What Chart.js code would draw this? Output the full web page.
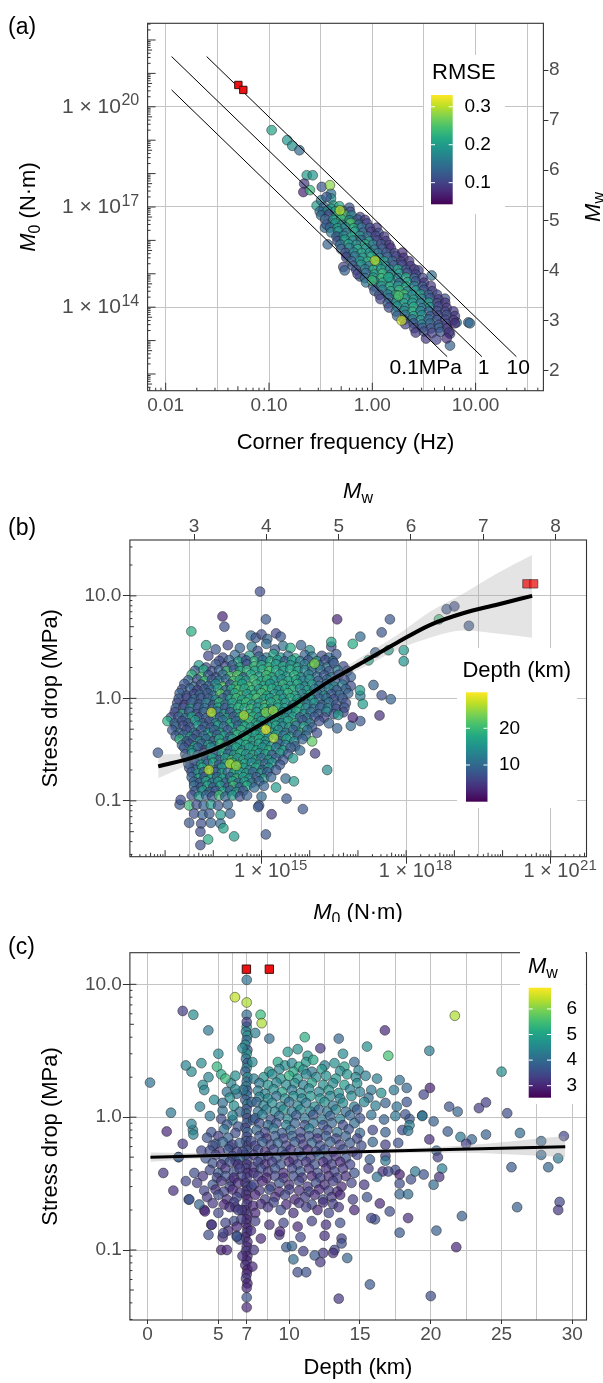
<!DOCTYPE html>
<html>
<head>
<meta charset="utf-8">
<script src="https://cdn.jsdelivr.net/npm/chart.js@4.4.1/dist/chart.umd.min.js"></script>
<style>
  html, body { margin: 0; padding: 0; background: #fff; }
  #fig { position: relative; width: 603px; height: 1383px; overflow: hidden; background: #fff; }
  #fig canvas { position: absolute; left: 0; }
</style>
</head>
<body>
<div id="fig">
  <canvas id="panelA" width="603" height="462" style="top:0px"></canvas>
  <canvas id="panelB" width="603" height="460" style="top:462px"></canvas>
  <canvas id="panelC" width="603" height="461" style="top:922px"></canvas>
</div>
<script>
// ---------------- panel (a): corner frequency vs seismic moment, colour = RMSE
// [corner frequency (Hz), M0 (N·m), RMSE]
const aEvents = [
  [0.106, 2.0e19, 0.21], [0.150, 1.0e19, 0.19], [0.168, 6.8e18, 0.18], [0.197, 5.0e18, 0.14],
  [0.232, 8.9e17, 0.20], [0.265, 8.9e17, 0.19], [0.219, 5.0e17, 0.09], [0.215, 2.8e17, 0.07],
  [0.249, 3.2e17, 0.23], [0.324, 4.0e17, 0.12], [0.398, 2.5e17, 0.15], [0.398, 1.8e17, 0.18],
  [0.289, 1.1e17, 0.20], [0.331, 7.6e16, 0.11], [0.42, 1.1e17, 0.19], [0.565, 4.0e16, 0.26],
  [0.665, 3.7e16, 0.25], [0.404, 3.3e16, 0.09], [0.348, 2.4e16, 0.14], [0.37, 7.6e15, 0.13],
  [0.469, 1.35e16, 0.22], [0.577, 3.5e15, 0.20], [0.524, 1.6e15, 0.10], [0.76, 8.3e14, 0.12],
  [3.75, 8.9e14, 0.15], [5.05, 1.8e14, 0.11], [8.5, 3.5e13, 0.13], [8.8, 3.3e13, 0.14],
  [6.55, 3.5e13, 0.15], [5.65, 7.1e12, 0.13], [5.65, 1.6e13, 0.10], [2.79, 1.26e15, 0.10],
  [0.54, 1.26e15, 0.13],
  [0.32, 1.6e17, 0.16], [0.36, 2.0e17, 0.12],
  [0.34, 1.0e17, 0.13], [0.40, 8.9e16, 0.20], [0.48, 1.05e17, 0.22], [0.60, 9.5e16, 0.12],
  [0.31, 7.3e16, 0.15], [0.37, 7.7e16, 0.18], [0.44, 7.4e16, 0.21], [0.52, 7.6e16, 0.14], [0.61, 7.2e16, 0.11],
  [0.32, 5.6e16, 0.14], [0.38, 6.0e16, 0.10], [0.45, 5.2e16, 0.22], [0.54, 5.8e16, 0.25], [0.63, 5.5e16, 0.17], [0.76, 5.0e16, 0.10],
  [0.35, 4.3e16, 0.13], [0.42, 4.1e16, 0.19], [0.50, 4.3e16, 0.23], [0.60, 4.0e16, 0.17], [0.72, 4.2e16, 0.12], [0.85, 4.1e16, 0.09],
  [0.36, 3.0e16, 0.12], [0.44, 3.2e16, 0.20], [0.51, 2.9e16, 0.16], [0.62, 3.3e16, 0.25], [0.74, 2.95e16, 0.14], [0.89, 3.2e16, 0.10],
  [0.39, 2.4e16, 0.14], [0.46, 2.3e16, 0.20], [0.55, 2.45e16, 0.17], [0.66, 2.3e16, 0.22], [0.79, 2.4e16, 0.15], [0.95, 2.35e16, 0.11], [1.10, 2.4e16, 0.09],
  [0.40, 1.74e16, 0.16], [0.47, 1.86e16, 0.18], [0.56, 1.66e16, 0.15], [0.68, 1.82e16, 0.20], [0.81, 1.7e16, 0.13], [0.98, 1.78e16, 0.09], [1.15, 1.66e16, 0.11],
  [0.45, 1.3e16, 0.12], [0.53, 1.36e16, 0.17], [0.63, 1.3e16, 0.21], [0.76, 1.35e16, 0.19], [0.90, 1.31e16, 0.14], [1.08, 1.36e16, 0.10], [1.30, 1.3e16, 0.09],
  [0.46, 9.5e15, 0.11], [0.54, 1.05e16, 0.20], [0.65, 9.8e15, 0.17], [0.78, 1.02e16, 0.14], [0.93, 9.3e15, 0.19], [1.12, 1.0e16, 0.10], [1.35, 9.5e15, 0.09],
  [0.49, 7.4e15, 0.14], [0.59, 7.7e15, 0.20], [0.70, 7.3e15, 0.18], [0.85, 7.6e15, 0.22], [1.02, 7.4e15, 0.16], [1.22, 7.7e15, 0.11], [1.46, 7.3e15, 0.09],
  [0.50, 5.5e15, 0.13], [0.60, 5.9e15, 0.16], [0.72, 5.4e15, 0.21], [0.87, 5.75e15, 0.18], [1.05, 5.25e15, 0.15], [1.26, 5.6e15, 0.12], [1.51, 5.9e15, 0.08],
  [0.55, 4.2e15, 0.11], [0.66, 4.3e15, 0.17], [0.79, 4.1e15, 0.21], [0.95, 4.3e15, 0.19], [1.14, 4.1e15, 0.15], [1.37, 4.25e15, 0.12], [1.64, 4.1e15, 0.10], [1.95, 4.3e15, 0.08],
  [0.56, 3.1e15, 0.10], [0.68, 3.3e15, 0.15], [0.81, 3.0e15, 0.19], [0.98, 3.24e15, 0.22], [1.17, 2.95e15, 0.16], [1.41, 3.16e15, 0.13], [1.70, 3.3e15, 0.10], [2.0, 3.0e15, 0.08],
  [0.63, 2.35e15, 0.13], [0.76, 2.4e15, 0.19], [0.90, 2.3e15, 0.22], [1.09, 2.4e15, 0.18], [1.31, 2.33e15, 0.20], [1.57, 2.4e15, 0.13], [1.90, 2.3e15, 0.10], [2.27, 2.38e15, 0.09],
  [0.65, 1.74e15, 0.12], [0.78, 1.86e15, 0.18], [0.93, 1.7e15, 0.15], [1.12, 1.82e15, 0.20], [1.35, 1.66e15, 0.17], [1.62, 1.78e15, 0.12], [1.95, 1.86e15, 0.10], [2.34, 1.7e15, 0.09],
  [0.70, 1.3e15, 0.11], [0.85, 1.36e15, 0.16], [1.02, 1.3e15, 0.22], [1.22, 1.35e15, 0.20], [1.47, 1.31e15, 0.17], [1.77, 1.36e15, 0.21], [2.12, 1.3e15, 0.12], [2.55, 1.35e15, 0.09],
  [0.72, 9.8e14, 0.10], [0.87, 1.05e15, 0.14], [1.05, 9.5e14, 0.20], [1.26, 1.02e15, 0.23], [1.51, 9.3e14, 0.16], [1.82, 1.0e15, 0.19], [2.19, 1.05e15, 0.11], [2.63, 9.5e14, 0.10],
  [0.85, 7.4e14, 0.14], [1.02, 7.7e14, 0.19], [1.22, 7.3e14, 0.23], [1.47, 7.6e14, 0.20], [1.77, 7.4e14, 0.16], [2.12, 7.7e14, 0.22], [2.55, 7.3e14, 0.13], [3.06, 7.5e14, 0.10],
  [0.87, 5.5e14, 0.15], [1.05, 5.9e14, 0.17], [1.26, 5.4e14, 0.21], [1.51, 5.75e14, 0.18], [1.82, 5.25e14, 0.14], [2.19, 5.6e14, 0.20], [2.63, 5.9e14, 0.12], [3.16, 5.4e14, 0.09],
  [1.02, 4.2e14, 0.13], [1.22, 4.3e14, 0.18], [1.47, 4.1e14, 0.22], [1.77, 4.3e14, 0.19], [2.12, 4.1e14, 0.21], [2.55, 4.25e14, 0.16], [3.06, 4.1e14, 0.12], [3.68, 4.3e14, 0.09],
  [1.05, 3.1e14, 0.12], [1.26, 3.3e14, 0.16], [1.51, 3.0e14, 0.20], [1.82, 3.24e14, 0.23], [2.19, 2.95e14, 0.17], [2.63, 3.16e14, 0.19], [3.16, 3.3e14, 0.11], [3.8, 3.0e14, 0.10],
  [1.17, 2.35e14, 0.11], [1.41, 2.4e14, 0.16], [1.69, 2.3e14, 0.20], [2.03, 2.4e14, 0.24], [2.44, 2.33e14, 0.18], [2.93, 2.4e14, 0.20], [3.52, 2.3e14, 0.13], [4.23, 2.38e14, 0.10],
  [1.2, 1.74e14, 0.10], [1.45, 1.86e14, 0.14], [1.74, 1.7e14, 0.21], [2.09, 1.82e14, 0.18], [2.51, 1.66e14, 0.20], [3.02, 1.78e14, 0.16], [3.63, 1.86e14, 0.12], [4.37, 1.7e14, 0.09],
  [1.41, 1.3e14, 0.12], [1.69, 1.36e14, 0.17], [2.03, 1.3e14, 0.21], [2.44, 1.35e14, 0.19], [2.93, 1.31e14, 0.16], [3.52, 1.36e14, 0.20], [4.23, 1.3e14, 0.11], [5.08, 1.35e14, 0.09],
  [1.45, 9.8e13, 0.11], [1.74, 1.05e14, 0.19], [2.09, 9.5e13, 0.17], [2.51, 1.02e14, 0.22], [3.02, 9.3e13, 0.15], [3.63, 1.0e14, 0.18], [4.37, 1.05e14, 0.10], [5.25, 9.5e13, 0.09],
  [1.69, 7.4e13, 0.14], [2.03, 7.7e13, 0.18], [2.44, 7.3e13, 0.22], [2.93, 7.6e13, 0.17], [3.52, 7.4e13, 0.13], [4.23, 7.7e13, 0.11], [5.08, 7.3e13, 0.10], [6.1, 7.5e13, 0.09],
  [1.74, 5.5e13, 0.13], [2.09, 5.9e13, 0.15], [2.51, 5.4e13, 0.20], [3.02, 5.75e13, 0.18], [3.63, 5.25e13, 0.12], [4.37, 5.6e13, 0.10], [5.25, 5.9e13, 0.11], [6.3, 5.4e13, 0.09],
  [2.03, 4.2e13, 0.11], [2.44, 4.3e13, 0.15], [2.93, 4.1e13, 0.18], [3.52, 4.3e13, 0.14], [4.23, 4.1e13, 0.12], [5.08, 4.25e13, 0.10], [6.1, 4.1e13, 0.09],
  [2.09, 3.1e13, 0.10], [2.51, 3.3e13, 0.12], [3.02, 3.0e13, 0.16], [3.63, 3.24e13, 0.14], [4.37, 2.95e13, 0.11], [5.25, 3.16e13, 0.10], [6.3, 3.3e13, 0.08],
  [2.55, 2.35e13, 0.10], [3.06, 2.4e13, 0.12], [3.68, 2.3e13, 0.11], [4.42, 2.4e13, 0.13], [5.3, 2.33e13, 0.09],
  [2.63, 1.74e13, 0.09], [3.16, 1.86e13, 0.11], [3.8, 1.7e13, 0.10], [4.57, 1.82e13, 0.12], [5.5, 1.74e13, 0.09],
  [3.31, 1.15e13, 0.09], [4.17, 1.07e13, 0.10], [5.25, 1.17e13, 0.08],
  [0.389, 4.5e17, 0.28], [0.486, 7.9e16, 0.30], [1.79, 2.2e14, 0.25], [1.43, 7.9e14, 0.21],
  [0.996, 6.3e14, 0.24], [1.06, 2.5e15, 0.30], [1.92, 4.0e13, 0.31]
];
const aLargeFc = [0.0505, 0.0564];
const aLargeM0 = [4.5e20, 3.2e20];
// constant stress-drop lines: 0.1, 1 and 10 MPa
const aLine01 = [[0.0114, 3.2e20], [5.3, 3.3e12]];
const aLine1 = [[0.0114, 3.2e21], [11.5, 3.3e12]];
const aLine10 = [[0.0249, 3.2e21], [24.8, 3.3e12]];
const aLineNames = ['0.1MPa', '1', '10'];
const aFreqGrid = [0.01, 0.0316, 0.1, 0.316, 1, 3.16, 10, 31.6];
const aFreqTicks = [0.01, 0.1, 1, 10];
const aFreqLabels = ['0.01', '0.10', '1.00', '10.00'];
const aMomentTicks = [1e14, 1e17, 1e20];
const aMwTicks = [2, 3, 4, 5, 6, 7, 8];
const rmseTicks = [0.1, 0.2, 0.3];
const rmseRange = [0.043, 0.331];

// ---------------- panel (b): stress drop vs M0, colour = depth
// [M0 (N·m), stress drop (MPa), depth (km)]
const bEvents = [
  [6.0e14,4.1,10],[7.6e14,3.9,8],[1.0e15,4.2,7],[1.32e15,3.8,9],[2.0e15,4.3,6],[2.5e15,4.0,8],
  [1.12e14,3.0,8],[2.0e14,3.3,6],[3.55e14,3.1,9],[6.3e14,3.2,12],[8.3e14,2.9,7],[1.26e15,3.4,10],[1.9e15,3.0,8],[2.8e15,3.25,11],[4.0e15,3.1,18],[6.6e15,3.3,9],[1.0e16,2.95,14],[2.8e16,3.2,7],
  [7.9e13,2.6,6],[1.58e14,2.5,7],[2.8e14,2.65,10],[4.0e14,2.45,8],[5.6e14,2.6,16],[8.9e14,2.55,9],[1.26e15,2.5,12],[1.78e15,2.7,17],[2.5e15,2.5,15],[3.55e15,2.6,10],[5.0e15,2.45,18],[7.9e15,2.65,9],[1.12e16,2.55,12],[1.78e16,2.6,7],[2.5e16,2.5,10],[3.55e16,2.7,8],
  [1.32e14,2.32,7],[2.14e14,2.36,9],[3.31e14,2.29,17],[4.79e14,2.34,8],[7.08e14,2.3,19],[1.05e15,2.35,10],[1.51e15,2.3,18],[2.14e15,2.36,16],[3.02e15,2.29,9],[4.27e15,2.34,17],[6.31e15,2.3,12],[9.33e15,2.35,8],[1.41e16,2.3,15],[2.09e16,2.36,7],[3.02e16,2.3,10],
  [5.0e13,2.1,16],[7.1e13,2.0,7],[1.12e14,2.15,8],[1.78e14,2.05,6],[2.5e14,2.1,9],[3.55e14,2.0,18],[5.0e14,2.15,8],[7.1e14,2.05,20],[1.0e15,2.1,17],[1.41e15,2.0,19],[2.0e15,2.15,16],[2.8e15,2.05,18],[4.0e15,2.1,14],[5.6e15,2.0,17],[7.9e15,2.15,12],[1.12e16,2.05,20],[1.58e16,2.1,9],[2.24e16,2.0,11],[3.16e16,2.2,8],[5.0e16,2.05,7],
  [4.17e13,1.86,8],[6.31e13,1.9,18],[9.33e13,1.84,7],[1.32e14,1.88,9],[1.91e14,1.85,20],[2.69e14,1.9,8],[3.63e14,1.84,17],[5.01e14,1.88,19],[7.24e14,1.85,16],[1.05e15,1.9,18],[1.45e15,1.84,21],[2.0e15,1.88,17],[2.82e15,1.85,15],[3.98e15,1.9,18],[5.62e15,1.84,16],[7.94e15,1.88,13],[1.12e16,1.85,9],[1.66e16,1.9,11],[2.51e16,1.84,8],[3.8e16,1.88,12],[6.03e16,1.85,6],
  [3.55e13,1.7,19],[5.6e13,1.62,21],[7.9e13,1.68,8],[1.12e14,1.6,7],[1.58e14,1.7,10],[2.24e14,1.64,21],[3.16e14,1.68,22],[4.2e14,1.6,9],[6.0e14,1.7,18],[8.9e14,1.63,16],[1.26e15,1.68,20],[1.66e15,1.6,18],[2.4e15,1.7,17],[3.3e15,1.63,16],[4.8e15,1.68,19],[6.6e15,1.6,15],[9.5e15,1.7,13],[1.41e16,1.63,10],[2.0e16,1.68,8],[2.8e16,1.6,12],[4.0e16,1.7,7],[7.1e16,1.62,9],
  [3.02e13,1.5,9],[4.68e13,1.53,7],[6.61e13,1.48,20],[9.33e13,1.52,8],[1.32e14,1.49,12],[1.86e14,1.53,9],[2.63e14,1.48,21],[3.55e14,1.51,18],[4.79e14,1.49,16],[6.92e14,1.53,20],[1.0e15,1.48,17],[1.32e15,1.52,19],[1.86e15,1.49,16],[2.63e15,1.53,14],[3.63e15,1.48,18],[5.25e15,1.51,17],[7.24e15,1.49,12],[1.0e16,1.53,15],[1.51e16,1.48,9],[2.29e16,1.52,10],[3.31e16,1.49,8],[5.25e16,1.51,7],
  [2.5e13,1.38,8],[4.0e13,1.3,10],[5.6e13,1.36,7],[7.9e13,1.32,9],[1.12e14,1.38,14],[1.58e14,1.3,22],[2.24e14,1.36,8],[3.0e14,1.32,20],[4.0e14,1.38,17],[5.6e14,1.3,21],[7.9e14,1.36,19],[1.12e15,1.32,18],[1.51e15,1.38,15],[2.1e15,1.3,17],[2.8e15,1.36,19],[4.0e15,1.32,16],[5.6e15,1.38,18],[7.9e15,1.3,14],[1.12e16,1.36,16],[1.58e16,1.32,11],[2.24e16,1.38,9],[3.16e16,1.3,14],[4.8e16,1.36,12],[7.1e16,1.32,7],
  [2.24e13,1.22,7],[3.31e13,1.24,9],[4.68e13,1.2,6],[6.61e13,1.23,8],[8.91e13,1.21,10],[1.26e14,1.24,16],[1.78e14,1.2,9],[2.4e14,1.23,18],[3.31e14,1.21,21],[4.47e14,1.24,17],[6.31e14,1.2,19],[8.91e14,1.23,16],[1.2e15,1.21,20],[1.66e15,1.24,18],[2.29e15,1.2,15],[3.16e15,1.23,17],[4.47e15,1.21,19],[6.31e15,1.24,14],[8.91e15,1.2,16],[1.26e16,1.23,12],[1.78e16,1.21,10],[2.51e16,1.24,13],[3.63e16,1.2,8],[5.62e16,1.23,9],
  [2.0e13,1.12,9],[2.8e13,1.06,8],[4.0e13,1.1,6],[5.25e13,1.08,10],[7.6e13,1.12,8],[1.0e14,1.06,11],[1.41e14,1.1,22],[2.0e14,1.08,9],[2.8e14,1.12,17],[3.8e14,1.06,21],[5.0e14,1.1,16],[7.1e14,1.08,18],[1.0e15,1.12,20],[1.32e15,1.06,17],[1.86e15,1.1,16],[2.5e15,1.08,15],[3.55e15,1.12,19],[5.0e15,1.06,17],[7.1e15,1.1,13],[1.0e16,1.08,18],[1.41e16,1.12,10],[2.0e16,1.06,14],[2.8e16,1.1,8],[4.2e16,1.08,10],[6.3e16,1.12,9],[1.12e17,1.06,12],
  [1.91e13,0.99,8],[2.82e13,1.0,6],[3.98e13,0.98,10],[5.62e13,1.0,7],[7.94e13,0.99,9],[1.12e14,0.97,13],[1.58e14,1.0,8],[2.24e14,0.98,17],[3.02e14,1.0,20],[3.98e14,0.97,16],[5.62e14,0.99,18],[7.94e14,1.0,21],[1.12e15,0.98,17],[1.51e15,1.0,16],[2.09e15,0.97,19],[2.88e15,0.99,15],[3.98e15,1.0,18],[5.62e15,0.98,16],[7.94e15,1.0,12],[1.12e16,0.97,14],[1.58e16,0.99,9],[2.24e16,1.0,10],[3.16e16,0.98,7],[4.79e16,1.0,8],
  [1.78e13,0.9,7],[2.5e13,0.86,5],[3.55e13,0.91,9],[5.0e13,0.87,8],[7.1e13,0.9,12],[1.0e14,0.86,7],[1.32e14,0.91,19],[1.78e14,0.87,10],[2.5e14,0.9,16],[3.55e14,0.86,18],[4.8e14,0.91,20],[6.3e14,0.87,16],[8.9e14,0.9,15],[1.2e15,0.86,22],[1.58e15,0.91,17],[2.24e15,0.87,18],[3.16e15,0.9,16],[4.5e15,0.86,14],[6.3e15,0.91,17],[8.9e15,0.87,12],[1.26e16,0.9,15],[1.78e16,0.86,9],[2.5e16,0.91,11],[3.55e16,0.87,8],[5.6e16,0.9,7],[1.26e17,0.88,16],
  [1.66e13,0.8,9],[2.4e13,0.81,7],[3.31e13,0.79,16],[4.79e13,0.81,8],[6.61e13,0.8,10],[9.55e13,0.79,9],[1.26e14,0.81,17],[1.74e14,0.8,8],[2.4e14,0.79,15],[3.31e14,0.81,19],[4.47e14,0.8,17],[6.03e14,0.79,20],[8.32e14,0.81,16],[1.15e15,0.8,18],[1.58e15,0.79,15],[2.19e15,0.81,17],[3.02e15,0.8,16],[4.17e15,0.79,14],[6.03e15,0.81,18],[8.32e15,0.8,13],[1.2e16,0.79,10],[1.66e16,0.81,9],[2.4e16,0.8,12],[3.55e16,0.79,7],[5.25e16,0.81,8],
  [1.58e13,0.73,6],[2.24e13,0.7,17],[3.16e13,0.74,8],[4.5e13,0.7,7],[6.3e13,0.73,9],[1.2e14,0.74,10],[1.66e14,0.7,16],[2.24e14,0.73,8],[3.16e14,0.7,16],[5.6e14,0.7,19],[7.9e14,0.73,16],[1.12e15,0.7,19],[1.41e15,0.74,17],[2.0e15,0.7,18],[2.8e15,0.73,16],[3.8e15,0.7,14],[5.25e15,0.74,17],[7.6e15,0.7,15],[1.05e16,0.73,11],[1.51e16,0.7,9],[2.24e16,0.74,13],[3.16e16,0.7,7],[5.0e16,0.73,6],
  [1.32e13,0.65,7],[1.91e13,0.66,8],[2.63e13,0.64,10],[3.63e13,0.66,17],[5.01e13,0.65,7],[7.08e13,0.64,9],[1.0e14,0.66,15],[1.38e14,0.65,9],[1.91e14,0.64,17],[2.63e14,0.66,8],[3.55e14,0.65,18],[4.79e14,0.64,16],[6.61e14,0.66,19],[8.91e14,0.65,15],[1.2e15,0.64,18],[1.66e15,0.66,16],[2.29e15,0.65,17],[3.16e15,0.64,14],[4.47e15,0.66,16],[6.31e15,0.65,9],[8.91e15,0.64,11],[1.26e16,0.66,8],[2.0e16,0.65,6],
  [1.12e13,0.6,18],[1.58e13,0.57,9],[2.24e13,0.6,7],[3.0e13,0.57,8],[4.2e13,0.61,16],[6.0e13,0.57,9],[8.3e13,0.6,7],[1.12e14,0.57,14],[1.58e14,0.61,10],[2.24e14,0.57,18],[3.0e14,0.6,9],[4.0e14,0.57,16],[5.6e14,0.61,20],[7.6e14,0.57,17],[1.0e15,0.6,15],[1.41e15,0.57,18],[1.9e15,0.61,16],[2.6e15,0.57,14],[3.55e15,0.6,17],[5.0e15,0.57,19],[7.1e15,0.61,8],[1.0e16,0.57,12],[1.58e16,0.6,7],[2.5e16,0.57,9],
  [1.66e13,0.53,9],[2.4e13,0.54,7],[3.31e13,0.52,8],[4.79e13,0.54,15],[6.61e13,0.53,9],[9.12e13,0.52,8],[1.26e14,0.54,16],[1.66e14,0.53,10],[2.4e14,0.52,17],[3.31e14,0.54,9],[4.47e14,0.53,18],[6.03e14,0.52,16],[8.32e14,0.54,17],[1.12e15,0.53,19],[1.51e15,0.52,15],[2.0e15,0.54,17],[2.75e15,0.53,13],[3.8e15,0.52,16],[5.25e15,0.54,10],[7.59e15,0.53,17],[1.12e16,0.52,8],
  [1.41e13,0.49,8],[2.0e13,0.46,10],[2.8e13,0.49,7],[4.0e13,0.46,12],[5.6e13,0.49,8],[7.9e13,0.46,15],[1.05e14,0.49,9],[1.41e14,0.46,17],[2.0e14,0.49,8],[2.8e14,0.46,16],[3.8e14,0.49,19],[5.25e14,0.46,15],[7.1e14,0.49,18],[9.5e14,0.46,16],[1.66e15,0.46,17],[2.24e15,0.49,14],[3.16e15,0.46,12],[4.5e15,0.49,9],[6.3e15,0.46,18],[8.9e15,0.49,10],[1.41e16,0.46,7],
  [1.66e13,0.43,8],[2.4e13,0.44,9],[3.31e13,0.42,16],[4.47e13,0.44,7],[6.31e13,0.43,10],[8.91e13,0.42,17],[1.2e14,0.44,8],[1.66e14,0.43,16],[2.24e14,0.42,9],[3.16e14,0.44,19],[4.17e14,0.43,15],[5.62e14,0.42,17],[7.59e14,0.44,16],[1.05e15,0.43,18],[1.41e15,0.42,14],[2.0e15,0.44,16],[2.82e15,0.43,11],[3.98e15,0.42,15],[5.62e15,0.44,8],[8.32e15,0.43,10],
  [2.0e13,0.4,19],[2.8e13,0.38,9],[3.8e13,0.4,8],[5.25e13,0.38,16],[7.1e13,0.4,10],[1.0e14,0.38,7],[1.32e14,0.4,18],[1.9e14,0.38,9],[2.5e14,0.4,17],[3.55e14,0.38,15],[4.8e14,0.4,19],[6.6e14,0.38,16],[8.9e14,0.4,18],[1.2e15,0.38,15],[2.4e15,0.38,10],[3.3e15,0.4,17],[4.8e15,0.38,14],[7.1e15,0.4,9],[1.12e16,0.38,22],
  [2.24e13,0.35,9],[3.16e13,0.36,7],[4.17e13,0.34,17],[5.75e13,0.36,8],[7.94e13,0.35,16],[1.05e14,0.34,9],[1.41e14,0.36,19],[2.0e14,0.35,8],[2.63e14,0.34,17],[3.55e14,0.36,16],[4.79e14,0.35,18],[6.61e14,0.34,15],[8.91e14,0.36,17],[1.2e15,0.35,14],[1.58e15,0.34,16],[2.24e15,0.36,9],[3.16e15,0.35,12],[5.01e15,0.34,8],
  [2.5e13,0.33,8],[3.55e13,0.31,16],[4.8e13,0.33,9],[6.6e13,0.31,7],[8.9e13,0.33,15],[1.2e14,0.31,8],[1.66e14,0.33,18],[2.24e14,0.31,10],[3.0e14,0.33,17],[4.0e14,0.31,14],[5.6e14,0.33,16],[7.9e14,0.31,18],[1.05e15,0.33,15],[1.41e15,0.31,19],[2.0e15,0.33,12],[2.8e15,0.31,17],[4.0e15,0.33,9],[6.3e15,0.31,10],
  [2.63e13,0.285,8],[3.63e13,0.29,15],[4.79e13,0.28,9],[6.31e13,0.29,7],[8.32e13,0.285,16],[1.12e14,0.28,9],[1.51e14,0.29,18],[2.0e14,0.285,10],[2.69e14,0.28,16],[3.63e14,0.29,19],[4.79e14,0.285,15],[6.61e14,0.28,17],[8.91e14,0.29,14],[1.2e15,0.285,16],[1.66e15,0.28,9],[2.4e15,0.29,15],[3.55e15,0.285,8],
  [2.8e13,0.26,9],[4.0e13,0.25,7],[5.25e13,0.26,15],[7.1e13,0.25,8],[9.5e13,0.26,17],[1.32e14,0.25,9],[1.78e14,0.26,16],[2.4e14,0.25,21],[3.16e14,0.26,15],[4.2e14,0.25,18],[5.6e14,0.26,14],[7.6e14,0.25,17],[1.0e15,0.26,10],[1.41e15,0.25,16],[2.0e15,0.26,9],[2.8e15,0.25,8],[4.5e15,0.26,16],
  [3.02e13,0.23,9],[4.17e13,0.235,8],[5.62e13,0.225,16],[7.59e13,0.23,10],[1.0e14,0.235,17],[1.32e14,0.225,8],[1.78e14,0.23,15],[2.51e14,0.235,19],[3.31e14,0.225,16],[4.47e14,0.23,17],[6.31e14,0.235,14],[8.71e14,0.225,16],[1.2e15,0.23,9],[1.66e15,0.235,15],[2.4e15,0.225,8],
  [3.16e13,0.21,8],[4.4e13,0.2,10],[5.9e13,0.21,17],[1.12e14,0.2,9],[1.51e14,0.21,15],[2.8e14,0.2,18],[4.2e14,0.21,16],[5.6e14,0.2,14],[7.6e14,0.21,17],[1.05e15,0.2,9],[1.41e15,0.21,15],[2.0e15,0.2,8],
  [3.55e13,0.19,8],[4.79e13,0.185,16],[6.31e13,0.19,9],[8.32e13,0.185,17],[1.12e14,0.19,8],[1.51e14,0.185,16],[2.0e14,0.19,10],[2.63e14,0.185,18],[3.55e14,0.19,15],[4.79e14,0.185,17],[6.61e14,0.19,9],[9.55e14,0.185,16],[1.32e15,0.19,8],
  [3.55e13,0.17,9],[5.0e13,0.165,16],[6.6e13,0.17,8],[8.9e13,0.165,18],[1.2e14,0.17,10],[1.58e14,0.165,17],[2.24e14,0.17,9],[3.0e14,0.165,19],[4.2e14,0.17,16],[5.6e14,0.165,15],[7.9e14,0.17,8],[1.12e15,0.165,16],[1.58e15,0.17,9],[3.16e15,0.165,10],
  [3.98e13,0.153,9],[5.25e13,0.15,8],[7.08e13,0.155,17],[9.55e13,0.15,9],[1.26e14,0.153,16],[1.78e14,0.15,8],[2.51e14,0.155,18],[3.31e14,0.15,9],[4.47e14,0.153,16],[6.31e14,0.15,10],[8.91e14,0.155,9],
  [4.0e13,0.14,10],[5.6e13,0.135,8],[7.6e13,0.14,17],[1.0e14,0.135,9],[1.41e14,0.14,16],[2.0e14,0.135,8],[2.6e14,0.14,20],[3.55e14,0.135,9],[5.0e14,0.14,18],[7.1e14,0.135,10],[1.12e15,0.14,9],[2.0e15,0.135,16],
  [4.17e13,0.124,8],[6.03e13,0.126,16],[8.32e13,0.122,9],[1.12e14,0.125,8],[1.58e14,0.123,17],[2.24e14,0.126,9],[3.02e14,0.122,15],[4.17e14,0.125,8],
  [3.55e13,0.113,7],[5.0e13,0.11,15],[7.1e13,0.113,9],[9.5e13,0.11,8],[1.32e14,0.113,20],[1.78e14,0.11,9],[2.5e14,0.113,16],[3.55e14,0.11,7],[5.0e14,0.113,9],[1.0e15,0.11,10],
  [2.0e13,0.092,8],[3.16e13,0.09,20],[4.5e13,0.092,7],[6.3e13,0.09,9],[8.9e13,0.092,16],[1.26e14,0.09,8],[2.0e14,0.092,9],[8.9e14,0.09,8],
  [4.0e13,0.075,7],[6.0e13,0.073,9],[8.3e13,0.075,8],[1.41e14,0.073,16],[2.24e14,0.075,9],
  [3.16e13,0.061,8],[5.6e13,0.06,7],[8.9e13,0.061,9],[1.41e14,0.06,10],
  [5.4e13,0.05,7],[7.8e13,0.042,18],[5.4e13,0.037,7],[1.62e14,0.054,17],[2.7e14,0.045,16],[1.23e15,0.047,8],
  [7.1e12,0.295,8],[2.1e13,0.102,7],[9.3e14,11.0,7],[1.55e14,6.3,3],[1.7e14,5.0,7],[3.5e13,4.5,18],[7.1e13,3.3,17],
  [1.23e15,5.9,8],[3.7e16,5.9,3],[4.6e17,5.9,8],[3.1e17,4.4,8],[1.12e17,4.0,10],[7.8e16,3.4,18],[2.8e16,3.55,17],
  [2.3e17,2.8,9],[8.9e17,2.95,16],[8.9e17,2.3,15],[4.3e17,2.95,16],[4.8e17,0.98,9],[3.1e17,1.07,7],[2.8e17,0.68,4],
  [6.9e18,7.4,8],[1.0e19,7.9,7],[4.8e18,5.9,20],[2.0e19,5.1,8],[2.3e16,0.2,14],[3.7e16,0.51,9],[7.1e16,0.54,10],
  [1.12e17,0.6,8],[1.66e17,2.35,17],[7.8e16,0.65,3],[2.1e17,1.35,9],[1.1e17,1.2,16],[4.7e15,0.155,16],[1.29e16,0.29,5],
  [3.3e15,0.105,8],[1.62e15,0.074,5],[8.5e14,0.087,8],[7.2e15,0.083,8],[3.9e16,0.69,16],
  [9.1e13,0.73,27],[4.3e14,0.68,26],[1.23e15,0.73,24],[1.74e15,0.76,25],[1.78e15,0.41,26],
  [8.1e13,0.2,27],[2.2e14,0.23,26],[3.0e14,0.22,25],[1.26e16,2.18,24],[1.23e15,0.495,29]
];
// LOESS trend and its confidence band
const bTrendM0 = [7.2e12, 4.5e13, 2.2e14, 1.07e15, 5.4e15, 2.6e16, 1.29e17, 6.3e17, 3.1e18, 1.51e19, 7.6e19, 4.1e20];
const bTrendDrop = [0.217, 0.272, 0.372, 0.575, 0.902, 1.48, 2.26, 3.47, 5.19, 6.76, 8.2, 10.0];
const bTrendLow = [0.166, 0.245, 0.347, 0.543, 0.851, 1.38, 2.0, 2.95, 3.9, 4.6, 4.3, 3.9];
const bTrendHigh = [0.282, 0.302, 0.398, 0.61, 0.955, 1.6, 2.6, 4.1, 7.0, 10.5, 16.5, 25.0];
const bLargeM0 = [3.2e20, 4.4e20];
const bLargeDrop = [13.1, 13.1];
const bMomentGrid = [3.16e13, 1e15, 3.16e16, 1e18, 3.16e19, 1e21];
const bMomentTicks = [1e15, 1e18, 1e21];
const bDropTicks = [0.1, 1, 10];
const bDropLabels = ['0.1', '1.0', '10.0'];
const bMwTicks = [3, 4, 5, 6, 7, 8];
const depthTicks = [10, 20];
const depthRange = [0, 29.8];

// ---------------- panel (c): stress drop vs depth, colour = Mw
// [depth (km), stress drop (MPa), Mw]
const cEvents = [
  [7.0,4.8,4.6],[6.95,4.4,4.2],[7.05,4.1,4.7],[7.0,3.8,3.9],[6.9,3.5,4.5],[7.05,3.2,3.6],[7.0,3.0,4.8],[6.95,2.75,4.1],
  [7.05,2.55,3.7],[7.0,2.35,4.4],[6.9,2.2,3.8],[7.05,2.0,4.6],[7.0,1.85,3.9],[6.95,1.7,4.3],[7.05,1.58,3.6],[7.0,1.46,4.1],
  [6.9,1.35,3.7],[7.05,1.25,4.4],[7.0,1.15,3.5],[6.95,1.06,4.0],[7.05,0.98,3.4],[7.0,0.9,3.8],[6.9,0.83,3.3],[7.05,0.77,3.9],
  [7.0,0.71,3.4],[6.95,0.66,3.6],[7.05,0.61,3.2],[7.0,0.56,3.7],[6.9,0.52,3.3],[7.05,0.48,3.5],[7.0,0.44,3.1],[6.95,0.41,3.4],
  [7.05,0.38,3.0],[7.0,0.35,3.3],[6.9,0.32,3.1],[7.05,0.3,3.5],[7.0,0.28,3.0],[6.95,0.26,3.2],[7.05,0.24,2.9],[7.0,0.22,3.3],
  [6.9,0.2,3.0],[7.05,0.185,3.2],[7.0,0.17,2.9],[6.95,0.158,3.1],[7.05,0.146,3.0],[7.0,0.135,3.3],[6.9,0.125,2.9],[7.05,0.115,3.1],
  [7.0,0.106,3.0],[6.95,0.098,3.2],[7.05,0.09,2.9],[7.0,0.083,3.0],[6.9,0.077,3.1],[7.05,0.071,2.9],[7.0,0.066,3.0],[6.95,0.061,3.2],
  [7.05,0.056,2.9],[7.0,0.052,3.0],[7.0,0.044,3.6],[7.0,0.037,3.0],[7.0,10.8,4.1],[7.0,5.9,4.0],[7.0,5.2,3.3],
  [7.4,2.6,4.5],[7.5,1.95,4.3],[7.35,1.3,3.8],[7.45,0.95,3.6],[7.3,0.66,3.5],[7.5,0.42,3.2],[7.35,0.3,3.4],[7.45,0.215,3.0],
  [7.3,0.14,3.1],[7.5,0.1,3.2],[7.4,0.075,3.0],[6.7,0.09,3.1],[6.65,0.2,3.2],[6.7,0.55,3.5],[6.75,1.6,4.2],[6.7,3.3,4.4],
  [5.9,1.8,4.4],[6.3,1.5,4.1],[6.5,1.1,3.9],[6.0,0.95,4.3],[6.4,0.85,3.6],[5.8,0.6,3.5],[6.2,0.47,3.2],[6.6,0.36,3.4],
  [5.9,0.33,3.0],[6.5,0.27,3.2],[6.2,0.21,3.1],[6.6,0.17,3.3],[5.7,0.14,3.0],[6.5,0.12,3.4],[6.1,0.165,3.5],[4.8,0.63,3.7],
  [3.8,0.56,3.4],[3.3,0.38,3.5],[3.9,0.36,3.2],[2.7,0.33,3.4],[5.3,1.12,4.1],[4.7,1.35,4.5],[4.3,2.0,4.4],[3.1,2.2,4.5],
  [5.0,3.0,4.5],[9.9,3.1,4.8],[10.6,3.25,4.6],[11.3,2.9,4.7],[12.2,3.3,3.2],[13.8,3.0,4.5],[15.5,3.4,4.6],
  [2.7,2.45,4.4],[3.8,2.55,4.5],[4.9,2.4,5.3],[9.2,2.6,5.0],[9.7,2.45,4.6],[10.2,2.55,4.4],[10.7,2.4,5.1],[11.2,2.6,4.8],[11.7,2.7,5.0],[12.5,2.45,4.3],[13.2,2.55,4.6],[13.9,2.4,4.9],[14.6,2.6,3.9],
  [8.6,2.2,4.7],[9.3,2.3,4.4],[10.3,2.2,5.0],[11.0,2.28,4.6],[11.6,2.2,4.2],[12.3,2.3,4.8],[13.6,2.22,4.5],[14.9,2.25,4.4],
  [5.2,2.1,5.1],[5.5,1.95,5.4],[6.2,2.05,4.6],[8.2,2.0,4.6],[8.8,2.1,4.5],[9.4,1.95,4.7],[10.0,2.05,5.2],[10.6,1.95,4.7],[11.2,2.1,4.4],[11.9,2.0,4.5],[12.6,2.05,4.6],[13.3,1.95,4.8],[14.1,2.1,4.7],[14.7,2.0,4.4],[15.4,2.05,4.3],[16.2,1.95,4.3],
  [3.9,1.75,4.5],[7.9,1.8,4.2],[8.5,1.75,4.7],[9.1,1.82,4.4],[9.8,1.75,4.5],[10.4,1.8,4.6],[11.0,1.75,4.3],[11.6,1.82,4.9],[12.4,1.75,4.6],[13.1,1.8,4.5],[13.9,1.75,4.8],[14.8,1.8,4.6],
  [4.0,1.6,4.4],[5.6,1.55,4.1],[6.2,1.62,4.5],[7.8,1.58,4.3],[8.3,1.5,4.4],[8.9,1.62,4.6],[9.5,1.55,4.9],[10.2,1.6,4.2],[10.8,1.52,4.5],[11.4,1.64,4.5],[12.1,1.55,4.4],[12.8,1.6,4.7],[13.5,1.52,4.6],[14.3,1.62,4.3],[15.0,1.55,4.3],[15.8,1.6,4.2],[16.5,1.52,4.6],[17.4,1.6,4.2],
  [5.8,1.4,4.6],[7.9,1.42,4.4],[8.5,1.38,4.5],[9.1,1.44,4.1],[9.7,1.38,4.6],[10.3,1.44,4.6],[10.9,1.38,4.4],[11.5,1.44,4.7],[12.2,1.38,4.6],[12.9,1.44,4.4],[13.6,1.38,4.3],[14.4,1.44,4.5],[15.6,1.4,4.0],
  [3.7,1.2,4.3],[5.3,1.28,4.0],[6.1,1.22,4.6],[7.7,1.3,3.9],[8.2,1.22,4.4],[8.8,1.28,4.5],[9.4,1.2,4.3],[10.0,1.3,4.0],[10.6,1.22,4.4],[11.2,1.28,4.2],[11.8,1.2,4.5],[12.5,1.3,4.6],[13.1,1.22,4.1],[13.8,1.28,4.5],[14.6,1.2,4.2],[15.3,1.3,4.4],[16.1,1.22,4.3],[16.8,1.28,3.8],[17.6,1.2,4.1],[18.3,1.3,3.6],
  [7.8,1.1,4.1],[8.4,1.14,4.3],[9.0,1.1,4.4],[9.6,1.14,4.6],[10.2,1.1,4.2],[10.8,1.14,4.5],[11.5,1.1,4.4],[12.1,1.14,3.9],[12.7,1.1,4.2],[13.3,1.14,4.4],[14.0,1.1,4.0],[14.8,1.14,3.7],
  [4.4,1.02,4.2],[5.2,0.97,3.5],[6.0,1.03,4.4],[7.6,0.98,3.8],[8.1,1.04,4.3],[8.7,0.96,3.6],[9.3,1.02,4.0],[9.9,0.97,4.4],[10.5,1.03,3.7],[11.1,0.98,4.1],[11.7,1.04,3.6],[12.3,0.96,4.2],[12.9,1.02,3.8],[13.6,0.97,4.3],[14.3,1.03,3.9],[15.0,0.98,3.6],[15.8,1.04,4.1],[16.7,0.96,3.8],[17.5,1.02,4.2],[18.5,0.97,3.7],[19.4,1.03,3.5],
  [5.6,0.88,3.7],[7.9,0.9,3.5],[8.5,0.87,4.0],[9.1,0.9,3.6],[9.8,0.87,4.3],[10.4,0.9,3.8],[11.1,0.87,3.5],[11.7,0.9,4.1],[12.4,0.87,3.6],[13.0,0.9,3.9],[13.8,0.87,3.5],[14.6,0.9,4.0],
  [3.2,0.8,4.4],[4.5,0.77,3.6],[5.4,0.81,4.1],[6.2,0.76,3.5],[7.7,0.8,3.9],[8.3,0.77,3.4],[8.9,0.82,4.2],[9.5,0.76,3.7],[10.1,0.8,4.0],[10.8,0.77,3.5],[11.4,0.82,4.3],[12.0,0.76,3.8],[12.7,0.8,3.5],[13.4,0.77,4.1],[14.2,0.81,3.6],[15.0,0.76,3.9],[15.9,0.8,3.4],[16.8,0.77,3.8],[18.0,0.8,3.5],
  [4.2,0.7,3.6],[5.0,0.72,3.3],[5.7,0.7,3.8],[7.9,0.72,3.6],[8.4,0.69,3.2],[9.0,0.72,3.7],[9.6,0.69,3.4],[10.2,0.72,3.8],[10.8,0.69,3.3],[11.4,0.72,3.6],[12.0,0.69,3.2],[12.6,0.72,3.7],[13.3,0.69,3.4],[14.0,0.72,3.8],[14.8,0.69,3.4],
  [4.6,0.61,3.5],[5.3,0.65,3.9],[6.0,0.62,3.4],[6.5,0.64,3.7],[7.6,0.61,3.3],[8.1,0.65,3.8],[8.7,0.62,3.5],[9.2,0.64,3.9],[9.8,0.61,3.4],[10.4,0.65,3.7],[11.0,0.62,3.3],[11.6,0.64,3.9],[12.2,0.61,3.5],[12.9,0.65,3.8],[13.6,0.62,3.4],[14.3,0.64,3.7],[15.1,0.61,3.5],[15.9,0.65,3.9],[16.8,0.62,3.3],[17.7,0.64,3.6],
  [4.4,0.56,3.5],[5.1,0.55,3.2],[5.7,0.57,3.6],[6.3,0.55,3.3],[7.8,0.57,3.5],[8.3,0.55,3.1],[8.9,0.57,3.4],[9.5,0.55,3.7],[10.1,0.57,3.2],[10.7,0.55,3.5],[11.3,0.57,3.1],[11.9,0.55,3.4],[12.5,0.57,3.6],[13.1,0.55,3.2],[13.8,0.57,3.5],[14.5,0.55,3.3],
  [2.2,0.5,3.8],[4.1,0.49,3.6],[4.8,0.52,3.3],[5.4,0.48,3.7],[6.0,0.51,3.4],[6.5,0.49,3.9],[7.5,0.52,3.2],[8.0,0.48,3.6],[8.5,0.51,3.3],[9.1,0.49,3.7],[9.7,0.52,3.4],[10.3,0.48,3.2],[10.9,0.51,3.6],[11.5,0.49,3.3],[12.1,0.52,3.8],[12.7,0.48,3.4],[13.3,0.51,3.2],[14.0,0.49,3.6],[14.8,0.52,3.4],[15.7,0.48,3.7],[16.8,0.51,3.3],
  [4.6,0.45,3.6],[5.2,0.44,3.2],[5.8,0.46,3.5],[6.4,0.44,3.1],[7.8,0.46,3.4],[8.3,0.44,3.0],[8.8,0.46,3.3],[9.4,0.44,3.6],[10.0,0.46,3.1],[10.6,0.44,3.4],[11.2,0.46,3.2],[11.8,0.44,3.5],[12.4,0.46,3.1],[13.0,0.44,3.3],[13.6,0.46,3.0],[14.3,0.44,3.4],
  [4.4,0.4,3.4],[5.0,0.38,3.7],[5.5,0.41,3.2],[6.1,0.39,3.6],[6.5,0.41,3.3],[7.5,0.38,3.1],[8.0,0.41,3.5],[8.5,0.39,3.2],[9.0,0.41,3.6],[9.6,0.38,3.1],[10.2,0.41,3.4],[10.8,0.39,3.7],[11.4,0.41,3.2],[12.0,0.38,3.5],[12.6,0.41,3.1],[13.2,0.39,3.4],[13.8,0.41,3.2],[14.6,0.38,3.6],[15.6,0.41,3.3],[16.6,0.39,3.1],[17.5,0.4,3.5],
  [4.9,0.35,3.3],[5.5,0.36,3.6],[6.1,0.35,3.1],[7.8,0.36,3.3],[8.4,0.35,3.0],[9.0,0.36,3.4],[9.6,0.35,3.1],[10.3,0.36,3.5],[10.9,0.35,3.2],[11.6,0.36,3.0],[12.2,0.35,3.4],[12.8,0.36,3.1],[13.4,0.35,3.3],[14.0,0.36,3.1],
  [3.5,0.32,3.3],[4.6,0.31,3.6],[5.2,0.33,3.2],[5.8,0.3,3.5],[6.4,0.32,3.1],[7.5,0.31,3.4],[8.1,0.33,3.0],[8.7,0.3,3.3],[9.3,0.32,3.6],[10.0,0.31,3.1],[10.7,0.33,3.4],[11.3,0.3,3.2],[11.9,0.32,3.5],[12.5,0.31,3.1],[13.1,0.33,3.3],[13.7,0.3,3.0],[14.4,0.32,3.4],[15.3,0.31,3.2],
  [4.0,0.28,3.4],[4.8,0.285,3.1],[5.4,0.275,3.4],[6.0,0.285,3.0],[7.9,0.28,3.2],[8.6,0.285,3.5],[9.3,0.275,3.0],[10.0,0.285,3.3],[10.7,0.28,3.1],[11.4,0.275,3.4],[12.1,0.285,3.0],[12.8,0.28,3.3],[13.4,0.275,3.1],
  [2.9,0.24,3.6],[4.2,0.25,3.2],[5.0,0.26,3.5],[5.6,0.24,3.1],[6.3,0.25,3.4],[7.6,0.26,3.0],[8.3,0.24,3.3],[9.0,0.25,3.1],[9.7,0.26,3.4],[10.4,0.24,3.0],[11.1,0.25,3.3],[11.8,0.26,3.1],[12.4,0.24,3.5],[13.0,0.25,3.2],[13.6,0.26,3.0],[14.5,0.24,3.3],[15.5,0.25,3.6],
  [4.6,0.225,3.2],[5.4,0.22,3.0],[6.1,0.228,3.3],[8.0,0.222,3.1],[8.9,0.228,3.4],[9.8,0.22,3.0],[10.7,0.226,3.2],[11.6,0.22,3.5],[12.4,0.228,3.1],[13.1,0.222,3.3],
  [4.0,0.2,3.0],[5.0,0.19,3.4],[5.8,0.21,3.1],[6.4,0.2,3.3],[7.6,0.19,3.0],[8.5,0.21,3.2],[9.4,0.2,3.5],[10.3,0.19,3.1],[11.2,0.21,3.3],[12.0,0.2,3.0],[12.8,0.19,3.4],[13.5,0.21,3.2],[14.6,0.2,3.0],
  [4.5,0.155,3.2],[5.5,0.16,3.4],[6.3,0.15,3.0],[7.6,0.165,3.3],[8.6,0.155,3.1],[9.6,0.16,3.4],[10.6,0.15,3.0],[11.6,0.165,3.3],[12.6,0.155,3.1],[13.6,0.16,3.5],
  [4.3,0.13,3.5],[5.3,0.125,3.1],[6.3,0.128,3.6],[8.0,0.122,3.0],[9.3,0.13,3.2],[10.8,0.125,3.4],[12.5,0.128,3.1],[13.7,0.122,3.3],
  [5.2,0.1,2.9],[5.6,0.1,3.0],[9.8,0.105,3.7],[11.0,0.098,3.3],[12.4,0.095,3.2],[13.2,0.1,3.4],
  [2.48,6.3,3.3],[3.23,5.9,4.6],[4.29,4.5,4.2],[7.6,4.3,4.3],[8.6,3.9,4.0],[13.5,3.9,3.9],[16.76,4.5,3.0],[19.9,3.16,4.3],
  [25.0,2.2,4.6],[0.17,1.82,4.1],[1.65,1.08,4.2],[3.1,0.89,4.3],[1.35,0.78,3.0],[3.23,0.74,4.4],[2.48,0.63,3.2],[2.17,0.5,3.8],
  [1.11,0.38,3.2],[1.82,0.28,3.1],[2.95,0.24,3.6],[3.65,0.22,3.9],
  [17.8,1.9,4.1],[18.3,1.66,3.9],[19.94,1.66,2.9],[19.5,1.48,3.4],[21.3,1.2,3.6],[21.9,1.1,3.9],[23.4,1.17,3.3],[23.9,1.29,3.3],
  [25.4,1.07,3.5],[19.4,1.02,4.3],[20.2,0.93,3.8],[21.2,0.78,3.7],[23.9,0.74,3.8],[26.3,0.76,4.0],[22.1,0.71,4.2],[22.9,0.68,3.9],
  [22.5,0.63,3.3],[19.9,0.68,3.1],[29.4,0.72,3.4],[27.8,0.66,3.9],[27.8,0.52,3.9],[29.0,0.49,4.2],[25.7,0.42,3.7],[28.3,0.42,3.9],
  [20.4,0.56,4.0],[20.5,0.5,3.3],[20.8,0.41,4.3],[20.6,0.355,3.1],[20.2,0.31,4.0],[26.1,0.21,3.8],[29.1,0.23,3.4],[29.0,0.2,3.2],
  [22.2,0.18,3.8],[20.4,0.14,3.8],[21.8,0.105,3.0],[18.4,0.174,3.1],[17.8,0.135,3.7],[16.06,0.17,3.6],[15.8,0.174,3.4],[17.1,0.195,3.5],
  [16.4,0.224,3.0],[17.8,0.263,3.9],[18.4,0.263,4.0],[19.5,0.37,3.6],[18.6,0.34,3.5],[18.9,0.39,4.2],[17.8,0.37,2.9],[17.8,0.316,3.5],
  [16.8,0.47,4.2],[17.0,0.39,3.4],[16.2,0.355,4.1],[18.2,1.05,3.6],[18.5,0.87,4.3],[18.4,0.79,4.2],
  [15.7,0.055,3.7],[20.0,0.045,3.5],[13.5,0.043,3.2],[10.2,0.107,3.9],[10.3,0.085,4.0],[10.6,0.068,3.5],[11.2,0.068,3.6],[11.8,0.091,3.7],
  [12.2,0.081,3.2],[13.1,0.095,3.1],[14.1,0.087,3.9],[13.7,0.112,3.5],[9.35,0.138,3.0],[6.3,0.126,3.6],[5.35,0.134,3.4],[4.53,0.155,3.2],[4.05,0.195,3.0],
  [11.1,4.0,5.2],[7.98,5.9,5.4],[17.0,2.9,5.5],[6.17,8.0,6.4],[8.06,5.1,6.3],[21.7,5.8,6.3],[7.0,7.3,6.3]
];
const cFitDepth = [0.2, 5, 10, 15, 22, 29.5];
const cFitDrop = [0.5, 0.515, 0.531, 0.548, 0.573, 0.6];
const cFitLow = [0.462, 0.497, 0.519, 0.532, 0.54, 0.5];
const cFitHigh = [0.541, 0.534, 0.543, 0.565, 0.608, 0.72];
const cLargeDepth = [6.98, 8.6];
const cLargeDrop = [13.0, 13.0];
const cDepthGrid = [0, 2.5, 5, 6, 7, 8.5, 10, 12.5, 15, 17.5, 20, 22.5, 25, 27.5, 30];
const cDepthTicks = [0, 5, 7, 10, 15, 20, 25, 30];
const mwTicks = [3, 4, 5, 6];
const mwRange = [2.53, 6.83];

// ---------------- helpers
const FONT = "'Liberation Sans', Arial, Helvetica, sans-serif";
const GRID = '#c4c4c4';
const TICKTXT = '#4d4d4d';
Chart.defaults.font.family = FONT;
Chart.defaults.color = TICKTXT;

const VIRIDIS = ['#440154', '#482475', '#414487', '#355f8d', '#2a788e', '#21918c',
                 '#22a884', '#44bf70', '#7ad151', '#bddf26', '#fde725'];
function hexRgb(h) { return [1, 3, 5].map(i => parseInt(h.slice(i, i + 2), 16)); }
function viridis(t, alpha) {
  t = Math.max(0, Math.min(1, t));
  const p = t * 10, i = Math.min(9, Math.floor(p)), f = p - i;
  const c0 = hexRgb(VIRIDIS[i]), c1 = hexRgb(VIRIDIS[i + 1]);
  const c = c0.map((v, k) => Math.round(v + (c1[k] - v) * f));
  return `rgba(${c[0]},${c[1]},${c[2]},${alpha})`;
}

function pointSet(rows, range) {
  return {
    type: 'scatter', order: 4,
    data: rows.map(r => ({ x: r[0], y: r[1], c: r[2] })),
    pointRadius: 4.9, pointHoverRadius: 4.9, borderWidth: 0.8,
    borderColor: 'rgba(25,25,25,0.6)',
    backgroundColor: ctx => ctx.raw ? viridis((ctx.raw.c - range[0]) / (range[1] - range[0]), 0.7) : '#888'
  };
}
function squares(xs, ys, fill, edge, r) {
  return {
    type: 'scatter', order: 1, data: xs.map((x, i) => ({ x, y: ys[i] })),
    pointStyle: 'rect', pointRadius: r, pointHoverRadius: r,
    backgroundColor: fill, borderColor: edge, borderWidth: 1
  };
}
function lineSet(xs, ys, width, order, extra) {
  return Object.assign({
    type: 'line', order, data: xs.map((x, i) => ({ x, y: ys[i] })),
    borderColor: '#000', borderWidth: width, pointRadius: 0, pointHoverRadius: 0,
    fill: false, tension: 0
  }, extra || {});
}
const setTicks = list => s => { s.ticks = list.map(v => ({ value: v })); };

function frame(chart) {
  const { ctx, chartArea: a } = chart;
  ctx.save(); ctx.strokeStyle = '#333'; ctx.lineWidth = 1.1;
  ctx.strokeRect(a.left, a.top, a.right - a.left, a.bottom - a.top);
  ctx.restore();
}
// inward log ticks along an axis (decade / five / other)
function logTicks(chart, id, side, len) {
  const s = chart.scales[id], a = chart.chartArea, ctx = chart.ctx;
  const lo = Math.floor(Math.log10(s.min)), hi = Math.ceil(Math.log10(s.max));
  ctx.save(); ctx.strokeStyle = '#333'; ctx.lineWidth = 1; ctx.beginPath();
  for (let e = lo; e <= hi; e++) {
    for (let k = 1; k <= 9; k++) {
      const v = k * Math.pow(10, e);
      if (v < s.min || v > s.max) continue;
      const p = s.getPixelForValue(v), l = k === 1 ? len[0] : (k === 5 ? len[1] : len[2]);
      if (side === 'bottom') { ctx.moveTo(p, a.bottom); ctx.lineTo(p, a.bottom - l); }
      else { ctx.moveTo(a.left, p); ctx.lineTo(a.left + l, p); }
    }
  }
  ctx.stroke(); ctx.restore();
}
function sciLabel(ctx, exp, x, y, align, size) {
  const base = '1 × 10', sup = String(exp), ss = Math.round(size * 0.75);
  ctx.save(); ctx.fillStyle = TICKTXT; ctx.textBaseline = 'middle'; ctx.textAlign = 'left';
  ctx.font = `${size}px ${FONT}`; const wb = ctx.measureText(base).width;
  ctx.font = `${ss}px ${FONT}`; const ws = ctx.measureText(sup).width;
  const x0 = align === 'right' ? x - wb - ws : x - (wb + ws) / 2;
  ctx.font = `${size}px ${FONT}`; ctx.fillText(base, x0, y);
  ctx.font = `${ss}px ${FONT}`; ctx.fillText(sup, x0 + wb + 0.5, y - size * 0.28);
  ctx.restore();
}
// parts: [text, style] where style has 'i' (italic) and/or 's' (subscript)
function richText(ctx, parts, x, y, size, angle, align, color) {
  const fontOf = st => `${st.includes('i') ? 'italic ' : ''}${st.includes('s') ? Math.round(size * 0.72) : size}px ${FONT}`;
  ctx.save(); ctx.translate(x, y); ctx.rotate(angle || 0);
  ctx.textBaseline = 'middle'; ctx.textAlign = 'left'; ctx.fillStyle = color || '#000';
  let w = 0;
  parts.forEach(([t, st]) => { ctx.font = fontOf(st); w += ctx.measureText(t).width; });
  let cx = align === 'left' ? 0 : -w / 2;
  parts.forEach(([t, st]) => {
    ctx.font = fontOf(st);
    ctx.fillText(t, cx, st.includes('s') ? size * 0.3 : 0);
    cx += ctx.measureText(t).width;
  });
  ctx.restore();
}
function colorBar(ctx, o) {
  const [bx, by, bw, bh] = o.bar;
  ctx.save();
  ctx.fillStyle = '#fff';
  ctx.fillRect(o.box[0], o.box[1], o.box[2] - o.box[0], o.box[3] - o.box[1]);
  const g = ctx.createLinearGradient(0, by + bh, 0, by);
  for (let i = 0; i <= 20; i++) g.addColorStop(i / 20, viridis(i / 20, 1));
  ctx.fillStyle = g; ctx.fillRect(bx, by, bw, bh);
  ctx.strokeStyle = '#fff'; ctx.lineWidth = 1; ctx.fillStyle = '#000';
  ctx.font = `19px ${FONT}`; ctx.textBaseline = 'middle'; ctx.textAlign = 'left';
  o.ticks.forEach(v => {
    const y = by + bh * (o.range[1] - v) / (o.range[1] - o.range[0]);
    ctx.beginPath(); ctx.moveTo(bx, y); ctx.lineTo(bx + 4, y); ctx.moveTo(bx + bw - 4, y); ctx.lineTo(bx + bw, y); ctx.stroke();
    ctx.fillText(String(v), o.labelX, y);
  });
  ctx.restore();
  richText(ctx, o.title, o.titleX, o.titleY, 22, 0, 'left');
}
function letter(ctx, t, y) {
  ctx.save(); ctx.fillStyle = '#000'; ctx.font = `23px ${FONT}`;
  ctx.textBaseline = 'middle'; ctx.fillText(t, 8, y); ctx.restore();
}
const M0_TITLE = [['M', 'i'], ['0', 's'], [' (N·m)', '']];
const MW_TITLE = [['M', 'i'], ['w', 's']];
const baseOptions = {
  responsive: false, maintainAspectRatio: false, animation: false, devicePixelRatio: 1, events: [],
  plugins: { legend: { display: false }, tooltip: { enabled: false } }
};

// ---------------- panel (a)
new Chart(document.getElementById('panelA'), {
  type: 'scatter',
  data: {
    datasets: [
      pointSet(aEvents, rmseRange),
      lineSet(aLine01.map(p => p[0]), aLine01.map(p => p[1]), 1, 2),
      lineSet(aLine1.map(p => p[0]), aLine1.map(p => p[1]), 1, 2),
      lineSet(aLine10.map(p => p[0]), aLine10.map(p => p[1]), 1, 2),
      squares(aLargeFc, aLargeM0, '#ee1111', '#3a1010', 5.2)
    ]
  },
  options: Object.assign({}, baseOptions, {
    layout: { autoPadding: false, padding: { top: 23.3, left: 0, right: 0, bottom: 0 } },
    scales: {
      x: {
        type: 'logarithmic', position: 'bottom', min: 0.00668, max: 45.3,
        afterBuildTicks: setTicks(aFreqGrid), afterFit: s => { s.height = 71.3; },
        grid: { color: GRID, lineWidth: 1, drawTicks: false }, border: { display: false },
        ticks: {
          autoSkip: false, maxRotation: 0, padding: 5.3, color: TICKTXT, font: { size: 19, lineHeight: 1 },
          callback: v => { const i = aFreqTicks.indexOf(v); return i >= 0 ? aFreqLabels[i] : ''; }
        }
      },
      y: {
        type: 'logarithmic', position: 'left', min: 3.16e11, max: 3.16e22,
        afterBuildTicks: setTicks(aMomentTicks), afterFit: s => { s.width = 147.6; },
        grid: { color: GRID, lineWidth: 1, drawTicks: false }, border: { display: false },
        ticks: { display: false }
      },
      y2: {
        type: 'linear', position: 'right', min: 1.6, max: 8.9333,
        afterBuildTicks: setTicks(aMwTicks), afterFit: s => { s.width = 59.6; },
        grid: { drawOnChartArea: false, drawTicks: true, tickLength: 5, tickColor: '#333', tickWidth: 1 },
        border: { display: false },
        ticks: { autoSkip: false, padding: 0.7, color: TICKTXT, font: { size: 19 }, callback: v => String(v) }
      }
    }
  }),
  plugins: [{
    id: 'panelAExtras',
    afterDraw(chart) {
      const ctx = chart.ctx;
      logTicks(chart, 'x', 'bottom', [8, 4.5, 3]);
      logTicks(chart, 'y', 'left', [8, 4.5, 3]);
      frame(chart);
      aMomentTicks.forEach(v => sciLabel(ctx, Math.round(Math.log10(v)), 138.7, chart.scales.y.getPixelForValue(v), 'right', 21));
      ctx.save(); ctx.fillStyle = '#000'; ctx.font = `21px ${FONT}`; ctx.textAlign = 'center'; ctx.textBaseline = 'middle';
      [425.8, 483.6, 518.3].forEach((x, i) => ctx.fillText(aLineNames[i], x, 368.3));
      ctx.restore();
      colorBar(ctx, {
        box: [424, 55, 505, 214], bar: [431, 95, 21.7, 109.3], range: rmseRange, ticks: rmseTicks,
        labelX: 464.4, title: [['RMSE', '']], titleX: 432, titleY: 73.3
      });
      richText(ctx, [['Corner frequency (Hz)', '']], 345.5, 443.3, 22, 0);
      richText(ctx, M0_TITLE, 28.9, 207, 22, -Math.PI / 2);
      richText(ctx, MW_TITLE, 593.4, 207, 22, -Math.PI / 2);
      letter(ctx, '(a)', 27.5);
    }
  }]
});

// ---------------- panel (b)
new Chart(document.getElementById('panelB'), {
  type: 'scatter',
  data: {
    datasets: [
      pointSet(bEvents, depthRange),
      lineSet(bTrendM0, bTrendLow, 0, 3, { cubicInterpolationMode: 'monotone' }),
      lineSet(bTrendM0, bTrendHigh, 0, 3, { cubicInterpolationMode: 'monotone', fill: '-1', backgroundColor: 'rgba(165,165,165,0.3)' }),
      lineSet(bTrendM0, bTrendDrop, 4, 2, { cubicInterpolationMode: 'monotone' }),
      squares(bLargeM0, bLargeDrop, 'rgba(235,30,30,0.8)', 'rgba(90,60,60,0.8)', 5.9)
    ]
  },
  options: Object.assign({}, baseOptions, {
    layout: { autoPadding: false, padding: { top: 0, left: 0, right: 16.5, bottom: 0 } },
    scales: {
      x: {
        type: 'logarithmic', position: 'bottom', min: 1.862e12, max: 5.5e21,
        afterBuildTicks: setTicks(bMomentGrid), afterFit: s => { s.height = 65.3; },
        grid: {
          color: GRID, lineWidth: 1, drawTicks: true, tickLength: 7, tickWidth: 1,
          tickColor: ctx => ctx.tick && bMomentTicks.includes(ctx.tick.value) ? '#333' : 'rgba(0,0,0,0)'
        },
        border: { display: false }, ticks: { display: false }
      },
      x2: {
        type: 'linear', position: 'top', min: 2.1133, max: 8.4267,
        afterBuildTicks: setTicks(bMwTicks), afterFit: s => { s.height = 78; },
        grid: { drawOnChartArea: false, drawTicks: true, tickLength: 6, tickColor: '#333', tickWidth: 1 },
        border: { display: false },
        ticks: { autoSkip: false, maxRotation: 0, padding: -2.5, color: TICKTXT, font: { size: 19, lineHeight: 1 }, callback: v => String(v) }
      },
      y: {
        type: 'logarithmic', position: 'left', min: 0.0285, max: 35.08,
        afterBuildTicks: setTicks(bDropTicks), afterFit: s => { s.width = 129.9; },
        grid: { color: GRID, lineWidth: 1, drawTicks: true, tickLength: 7, tickColor: '#333', tickWidth: 1 },
        border: { display: false },
        ticks: {
          autoSkip: false, padding: 1.5, color: TICKTXT, font: { size: 19 },
          callback: v => { const i = bDropTicks.indexOf(v); return i >= 0 ? bDropLabels[i] : ''; }
        }
      }
    }
  }),
  plugins: [{
    id: 'panelBExtras',
    afterDraw(chart) {
      const ctx = chart.ctx;
      logTicks(chart, 'x', 'bottom', [6.5, 4, 2.5]);
      logTicks(chart, 'y', 'left', [6.5, 4, 2.5]);
      frame(chart);
      bMomentTicks.forEach(v => sciLabel(ctx, Math.round(Math.log10(v)), chart.scales.x.getPixelForValue(v) + 9, 409, 'center', 20));
      colorBar(ctx, {
        box: [457, 186, 577, 346], bar: [466, 230.3, 21.5, 109.4], range: depthRange, ticks: depthTicks,
        labelX: 499, title: [['Depth (km)', '']], titleX: 462.4, titleY: 209
      });
      richText(ctx, MW_TITLE, 358, 29.7, 22, 0);
      richText(ctx, M0_TITLE, 358, 451, 22, 0);
      richText(ctx, [['Stress drop (MPa)', '']], 51, 236.3, 22, -Math.PI / 2);
      letter(ctx, '(b)', 67);
    }
  }]
});

// ---------------- panel (c)
new Chart(document.getElementById('panelC'), {
  type: 'scatter',
  data: {
    datasets: [
      pointSet(cEvents, mwRange),
      lineSet(cFitDepth, cFitLow, 0, 3, { cubicInterpolationMode: 'monotone' }),
      lineSet(cFitDepth, cFitHigh, 0, 3, { cubicInterpolationMode: 'monotone', fill: '-1', backgroundColor: 'rgba(165,165,165,0.35)' }),
      lineSet(cFitDepth, cFitDrop, 3, 2),
      squares(cLargeDepth, cLargeDrop, '#ee1111', '#3a1010', 5.9)
    ]
  },
  options: Object.assign({}, baseOptions, {
    layout: { autoPadding: false, padding: { top: 30.7, left: 0, right: 16.5, bottom: 0 } },
    scales: {
      x: {
        type: 'linear', position: 'bottom', min: -1.25, max: 31,
        afterBuildTicks: setTicks(cDepthGrid), afterFit: s => { s.height = 63; },
        grid: {
          color: GRID, lineWidth: 1, drawTicks: true, tickLength: 4, tickWidth: 1,
          tickColor: ctx => ctx.tick && cDepthTicks.includes(ctx.tick.value) ? '#333' : 'rgba(0,0,0,0)'
        },
        border: { display: false },
        ticks: {
          autoSkip: false, maxRotation: 0, padding: 1.2, color: TICKTXT, font: { size: 19, lineHeight: 1 },
          callback: v => cDepthTicks.includes(v) ? String(v) : ''
        }
      },
      y: {
        type: 'logarithmic', position: 'left', min: 0.02972, max: 17.3,
        afterBuildTicks: setTicks(bDropTicks), afterFit: s => { s.width = 129.9; },
        grid: { color: GRID, lineWidth: 1, drawTicks: true, tickLength: 7, tickColor: '#333', tickWidth: 1 },
        border: { display: false },
        ticks: {
          autoSkip: false, padding: 1, color: TICKTXT, font: { size: 19 },
          callback: v => { const i = bDropTicks.indexOf(v); return i >= 0 ? bDropLabels[i] : ''; }
        }
      }
    }
  }),
  plugins: [{
    id: 'panelCExtras',
    afterDraw(chart) {
      const ctx = chart.ctx;
      logTicks(chart, 'y', 'left', [6.5, 4, 2.5]);
      frame(chart);
      colorBar(ctx, {
        box: [520, 22, 585.5, 182], bar: [528.7, 65.7, 22.3, 110], range: mwRange, ticks: mwTicks,
        labelX: 566.5, title: MW_TITLE, titleX: 528, titleY: 45
      });
      richText(ctx, [['Depth (km)', '']], 358, 446.3, 22, 0);
      richText(ctx, [['Stress drop (MPa)', '']], 51, 214.4, 22, -Math.PI / 2);
      letter(ctx, '(c)', 26);
    }
  }]
});
</script>
</body>
</html>
